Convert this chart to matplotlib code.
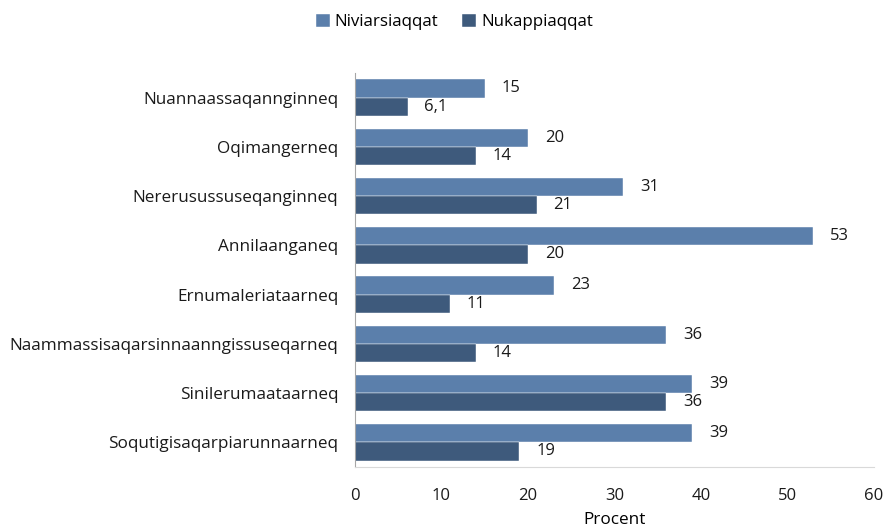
import numpy as np
import matplotlib.pyplot as plt

plt.rcParams['font.family'] = ['Open Sans', 'DejaVu Sans']

categories = ["Nuannaassaqannginneq", "Oqimangerneq", "Nererusussuseqanginneq",
              "Annilaanganeq", "Ernumaleriataarneq",
              "Naammassisaqarsinnaanngissuseqarneq", "Sinilerumaataarneq",
              "Soqutigisaqarpiarunnaarneq"]
niviarsiaqqat = [15, 20, 31, 53, 23, 36, 39, 39]
nukappiaqqat = [6.1, 14, 21, 20, 11, 14, 36, 19]
niv_labels = ["15", "20", "31", "53", "23", "36", "39", "39"]
nuk_labels = ["6,1", "14", "21", "20", "11", "14", "36", "19"]

c_light = '#5b7fab'
c_dark = '#3e5a7c'

fig = plt.figure(figsize=(8.86, 5.29), dpi=100)
ax = fig.add_axes([0.4007, 0.1172, 0.5858, 0.745])

y = np.arange(len(categories))
h = 0.37
b1 = ax.barh(y - h/2, niviarsiaqqat, height=h, color=c_light, label='Niviarsiaqqat',
             edgecolor='white', linewidth=0.3)
b2 = ax.barh(y + h/2, nukappiaqqat, height=h, color=c_dark, label='Nukappiaqqat',
             edgecolor='white', linewidth=0.3)

for yy, v, s in zip(y - h/2, niviarsiaqqat, niv_labels):
    ax.annotate(s, (v, yy), xytext=(12, 0), textcoords='offset points',
                ha='left', va='center', fontsize=12, color='#1a1a1a')
for yy, v, s in zip(y + h/2, nukappiaqqat, nuk_labels):
    ax.annotate(s, (v, yy), xytext=(12, 0), textcoords='offset points',
                ha='left', va='center', fontsize=12, color='#1a1a1a')

ax.set_ylim(len(categories) - 0.5, -0.5)
ax.set_xlim(0, 60)
ax.set_xticks(range(0, 61, 10))
ax.set_yticks(y)
ax.set_yticklabels(categories)
ax.tick_params(axis='both', length=0, colors='#1a1a1a')
ax.tick_params(axis='y', pad=12, labelsize=12.3)
ax.tick_params(axis='x', pad=15, labelsize=12)
ax.set_xlabel('Procent', fontsize=12.3, labelpad=6)

for s in ['top', 'right']:
    ax.spines[s].set_visible(False)
ax.spines['left'].set_color('#a6a6a6')
ax.spines['bottom'].set_color('#d9d9d9')

fig.legend(handles=[b1, b2], loc='center', bbox_to_anchor=(0.513, 0.958), ncol=2,
           frameon=False, fontsize=12.2, handlelength=0.8, handleheight=0.8,
           handletextpad=0.3, columnspacing=1.4)

fig.savefig('out.png', dpi=100)
